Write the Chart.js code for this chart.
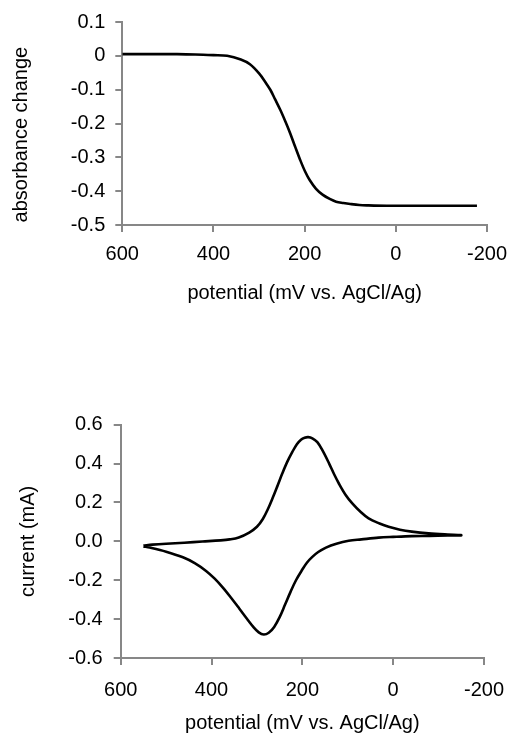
<!DOCTYPE html>
<html>
<head>
<meta charset="utf-8">
<script src="https://cdn.jsdelivr.net/npm/chart.js@4"></script>
<style>
  html, body { margin: 0; padding: 0; background: #ffffff; }
  #wrap { position: relative; width: 517px; height: 746px; background: #fff; }
  canvas { position: absolute; left: 0; }
  #c1 { top: 0; }
  #c2 { top: 310px; }
</style>
</head>
<body>
<div id="wrap">
  <canvas id="c1" width="517" height="310"></canvas>
  <canvas id="c2" width="517" height="436"></canvas>
</div>
<script>
// ---- Top chart: absorbance change vs potential ----
const absPotential = [600, 560, 520, 480, 440, 400, 370, 340, 320, 300, 285, 275, 265, 253, 242, 232, 221, 210, 199, 189, 175, 160, 145, 131, 115, 100, 80, 60, 20, -40, -100, -178];
const absChange    = [0.005, 0.005, 0.005, 0.005, 0.004, 0.002, 0.000, -0.011, -0.025, -0.052, -0.080, -0.101, -0.128, -0.161, -0.195, -0.228, -0.268, -0.307, -0.342, -0.367, -0.393, -0.411, -0.423, -0.431, -0.435, -0.438, -0.441, -0.442, -0.443, -0.443, -0.443, -0.443];

// ---- Bottom chart: cyclic voltammogram (one closed loop) ----
const cvPotential = [550, 530, 500, 460, 420, 380, 360, 340, 317, 300, 287, 275, 265, 254, 244, 233, 222, 212, 203, 195, 187, 178, 167, 155, 141, 130, 119, 105, 90, 72, 54, 30, 10, -15, -41, -78, -120, -150,
                     -150, -120, -80, -41, 0, 32, 70, 98, 125, 148, 165, 178, 190, 200, 214, 226, 238, 250, 262, 274, 285, 296, 308, 322, 339, 357, 375, 393, 412, 437, 463, 500, 536, 550];
const cvCurrent   = [-0.022, -0.017, -0.012, -0.007, -0.001, 0.005, 0.010, 0.020, 0.045, 0.075, 0.115, 0.170, 0.225, 0.290, 0.350, 0.410, 0.460, 0.500, 0.523, 0.533, 0.536, 0.530, 0.510, 0.465, 0.400, 0.345, 0.295, 0.240, 0.195, 0.152, 0.118, 0.092, 0.075, 0.060, 0.050, 0.041, 0.035, 0.032,
                     0.030, 0.030, 0.028, 0.027, 0.023, 0.019, 0.010, 0.003, -0.012, -0.032, -0.055, -0.080, -0.110, -0.145, -0.200, -0.260, -0.325, -0.390, -0.440, -0.470, -0.479, -0.468, -0.440, -0.398, -0.345, -0.290, -0.238, -0.192, -0.152, -0.112, -0.082, -0.053, -0.032, -0.026];

// ---- Axis settings / labels ----
const xTicks = [600, 400, 200, 0, -200];
const absTicks = [0.1, 0, -0.1, -0.2, -0.3, -0.4, -0.5];
const cvTicks = [0.6, 0.4, 0.2, 0.0, -0.2, -0.4, -0.6];
const xTitle = 'potential (mV vs. AgCl/Ag)';
const absTitle = 'absorbance change';
const cvTitle = 'current (mA)';

const FONT = "'Liberation Sans', Arial, sans-serif";
const AXIS_GREY = '#878787';

function pts(xs, ys) { return xs.map((x, i) => ({ x: x, y: ys[i] })); }

function makeChart(canvasId, cfg) {
  return new Chart(document.getElementById(canvasId), {
    type: 'scatter',
    data: {
      datasets: [{
        data: pts(cfg.xs, cfg.ys),
        showLine: true,
        borderColor: '#000000',
        borderWidth: 2.6,
        pointRadius: 0,
        tension: 0.35,
        fill: false
      }]
    },
    options: {
      responsive: false,
      animation: false,
      events: [],
      layout: { padding: cfg.padding },
      plugins: { legend: { display: false }, tooltip: { enabled: false } },
      scales: {
        x: {
          type: 'linear',
          reverse: true,
          min: Math.min(...xTicks),
          max: Math.max(...xTicks),
          afterBuildTicks: (s) => { s.ticks = xTicks.map(v => ({ value: v })); },
          afterFit: (s) => { s.height = cfg.xHeight; },
          grid: { drawOnChartArea: false, drawTicks: true, tickLength: 7, color: AXIS_GREY, lineWidth: 2 },
          border: { display: true, color: AXIS_GREY, width: 2 },
          ticks: { color: '#000', font: { family: FONT, size: 20 }, padding: cfg.xTickPad, maxRotation: 0, autoSkip: false,
                   callback: (v) => String(v) },
          title: { display: true, text: xTitle, color: '#000', font: { family: FONT, size: 20 }, padding: { top: 0, bottom: cfg.xTitlePad } }
        },
        y: {
          type: 'linear',
          min: Math.min(...cfg.yTicks),
          max: Math.max(...cfg.yTicks),
          afterBuildTicks: (s) => { s.ticks = cfg.yTicks.map(v => ({ value: v })); },
          afterFit: (s) => { s.width = cfg.yWidth; },
          grid: { drawOnChartArea: false, drawTicks: true, tickLength: 7, color: AXIS_GREY, lineWidth: 2 },
          border: { display: true, color: AXIS_GREY, width: 2 },
          ticks: { color: '#000', font: { family: FONT, size: 20 }, padding: cfg.yTickPad, autoSkip: false,
                   callback: cfg.yFmt },
          title: { display: true, text: cfg.yTitle, color: '#000', font: { family: FONT, size: 20 }, padding: { top: cfg.yTitlePad, bottom: 0 } }
        }
      }
    }
  });
}

makeChart('c1', {
  xs: absPotential, ys: absChange, yTicks: absTicks, yTitle: absTitle + '    ',
  padding: { left: 0, right: 23.3, top: 21.3, bottom: 0 },
  yWidth: 122.3, xHeight: 85, xTickPad: 10, yTickPad: 10, xTitlePad: 5, yTitlePad: 9,
  yFmt: (v) => String(Number(v.toFixed(1)))
});

makeChart('c2', {
  xs: cvPotential, ys: cvCurrent, yTicks: cvTicks, yTitle: cvTitle,
  padding: { left: 0, right: 31.3, top: 114.7, bottom: 0 },
  yWidth: 120.7, xHeight: 88, xTickPad: 13, yTickPad: 11, xTitlePad: 11, yTitlePad: 16,
  yFmt: (v) => (Math.abs(v) < 1e-9 ? 0 : v).toFixed(1)
});
</script>
</body>
</html>
